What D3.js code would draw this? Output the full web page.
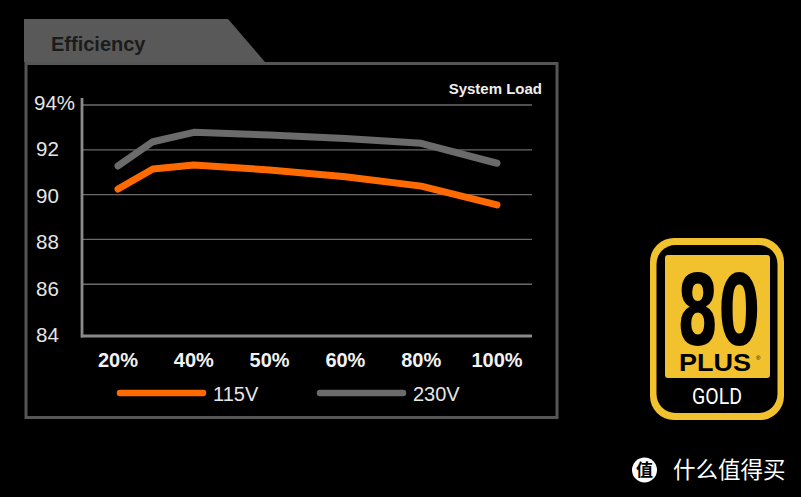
<!DOCTYPE html>
<html>
<head>
<meta charset="utf-8">
<script src="https://cdn.jsdelivr.net/npm/d3@7"></script>
<style>
  html, body { margin: 0; padding: 0; background: #000; }
  svg { display: block; }
</style>
</head>
<body>
<svg id="chart" width="801" height="497"></svg>
<script>
// categories on the load axis, and where each measured point sits along it
const loadLabels = ["20%", "40%", "50%", "60%", "80%", "100%"];
const loadPos = [0, 0.46, 1, 2, 3, 4, 5];
const eff115 = [90.25, 91.14, 91.32, 91.10, 90.80, 90.38, 89.54];
const eff230 = [91.28, 92.36, 92.78, 92.66, 92.51, 92.29, 91.40];
const yTicks = [94, 92, 90, 88, 86, 84];
const gridTicks = [94, 92, 90, 88, 86];
const series = [
    { name: "115V", values: eff115, color: "#ff6a00" },
    { name: "230V", values: eff230, color: "#6b6b6b" }
];

const svg = d3.select("#chart");
const font = "'Liberation Sans', Arial, sans-serif";

const x = d3.scaleLinear().domain([0, 5]).range([118, 497]);
const y = d3.scaleLinear().domain([83.69, 94]).range([336, 105]);
// tick labels drift a little from the grid in the original
const yLabel = d3.scaleLinear().domain([84, 94]).range([335, 102.5]);

// frame + tab
svg.append("path")
    .attr("d", "M24,19 L228,19 L265,62 L24,62 Z")
    .attr("fill", "#595959");
svg.append("rect")
    .attr("x", 26).attr("y", 63.5)
    .attr("width", 531).attr("height", 354)
    .attr("fill", "none")
    .attr("stroke", "#555")
    .attr("stroke-width", 3);
svg.append("text")
    .attr("x", 51).attr("y", 51)
    .attr("font-family", font)
    .attr("font-weight", "bold")
    .attr("font-size", 20)
    .attr("fill", "#1c1c1c")
    .text("Efficiency");

svg.append("text")
    .attr("x", 542).attr("y", 94)
    .attr("text-anchor", "end")
    .attr("font-family", font)
    .attr("font-weight", "bold")
    .attr("font-size", 15)
    .attr("fill", "#eee")
    .text("System Load");

// grid
svg.append("g")
    .selectAll("line")
    .data(gridTicks)
    .join("line")
    .attr("x1", 82).attr("x2", 532)
    .attr("y1", d => y(d)).attr("y2", d => y(d))
    .attr("stroke", "#6a6a6a")
    .attr("stroke-width", 1.3);

// axes
svg.append("line")
    .attr("x1", 82).attr("x2", 82)
    .attr("y1", 98).attr("y2", y(83.69) + 1.5)
    .attr("stroke", "#8a8a8a").attr("stroke-width", 2.8);
svg.append("line")
    .attr("x1", 81).attr("x2", 532)
    .attr("y1", y(83.69)).attr("y2", y(83.69))
    .attr("stroke", "#8a8a8a").attr("stroke-width", 2.8);

svg.append("g")
    .selectAll("text")
    .data(yTicks)
    .join("text")
    .attr("x", d => d === 94 ? 34 : 36)
    .attr("y", d => yLabel(d))
    .attr("dy", "0.36em")
    .attr("font-family", font)
    .attr("font-size", 20.5)
    .attr("fill", "#e6e6e6")
    .text(d => d === 94 ? d + "%" : d);

svg.append("g")
    .selectAll("text")
    .data(loadLabels)
    .join("text")
    .attr("x", (d, i) => x(i))
    .attr("y", 366.5)
    .attr("text-anchor", "middle")
    .attr("font-family", font)
    .attr("font-weight", "bold")
    .attr("font-size", 20)
    .attr("fill", "#f2f2f2")
    .text(d => d);

// lines
const line = d3.line()
    .x((d, i) => x(loadPos[i]))
    .y(d => y(d));

svg.append("g")
    .selectAll("path")
    .data(series.slice().reverse())
    .join("path")
    .attr("d", d => line(d.values))
    .attr("fill", "none")
    .attr("stroke", d => d.color)
    .attr("stroke-width", 7)
    .attr("stroke-linecap", "round")
    .attr("stroke-linejoin", "round");

// legend
const leg = svg.append("g")
    .selectAll("g")
    .data(series)
    .join("g")
    .attr("transform", (d, i) => `translate(${120 + i * 200},393)`);
leg.append("line")
    .attr("x1", 0).attr("x2", 83)
    .attr("stroke", d => d.color)
    .attr("stroke-width", 6.5)
    .attr("stroke-linecap", "round");
leg.append("text")
    .attr("x", 93).attr("y", 7.5)
    .attr("font-family", font)
    .attr("font-size", 20)
    .attr("fill", "#e6e6e6")
    .text(d => d.name);

// 80 PLUS GOLD badge
const badge = svg.append("g");
badge.append("rect")
    .attr("x", 650).attr("y", 238).attr("width", 134).attr("height", 182)
    .attr("rx", 24).attr("fill", "#f2c12e");
badge.append("rect")
    .attr("x", 656.5).attr("y", 245).attr("width", 121).attr("height", 168)
    .attr("rx", 19).attr("fill", "#000");
badge.append("rect")
    .attr("x", 665).attr("y", 255).attr("width", 105).attr("height", 123)
    .attr("rx", 3).attr("fill", "#f2c12e");
badge.append("text")
    .attr("x", 677).attr("y", 345)
    .attr("textLength", 83).attr("lengthAdjust", "spacingAndGlyphs")
    .attr("font-family", "'DejaVu Sans Condensed', 'DejaVu Sans', sans-serif")
    .attr("font-weight", "bold")
    .attr("font-size", 98)
    .attr("fill", "#000")
    .text("80");
badge.append("text")
    .attr("x", 679).attr("y", 370.5)
    .attr("textLength", 72).attr("lengthAdjust", "spacingAndGlyphs")
    .attr("font-family", font)
    .attr("font-weight", "bold")
    .attr("font-size", 23)
    .attr("fill", "#000")
    .text("PLUS");
badge.append("text")
    .attr("x", 756).attr("y", 360)
    .attr("font-family", font)
    .attr("font-size", 6)
    .attr("fill", "#000")
    .text("®");
badge.append("text")
    .attr("x", 692).attr("y", 404)
    .attr("textLength", 50).attr("lengthAdjust", "spacingAndGlyphs")
    .attr("font-family", "Roboto, 'DejaVu Sans', sans-serif")
    .attr("font-size", 22)
    .attr("fill", "#fff")
    .text("GOLD");

// watermark
svg.append("circle")
    .attr("cx", 644.5).attr("cy", 470).attr("r", 12.5)
    .attr("fill", "#fff");
svg.append("text")
    .attr("x", 644.5).attr("y", 470).attr("dy", "0.36em")
    .attr("text-anchor", "middle")
    .attr("font-family", "'Noto Sans CJK SC', sans-serif")
    .attr("font-weight", "bold")
    .attr("font-size", 17)
    .attr("fill", "#000")
    .text("值");
svg.append("text")
    .attr("x", 673).attr("y", 470).attr("dy", "0.36em")
    .attr("font-family", "'Noto Sans CJK SC', sans-serif")
    .attr("font-size", 22.5)
    .attr("fill", "#fff")
    .text("什么值得买");
</script>
</body>
</html>
